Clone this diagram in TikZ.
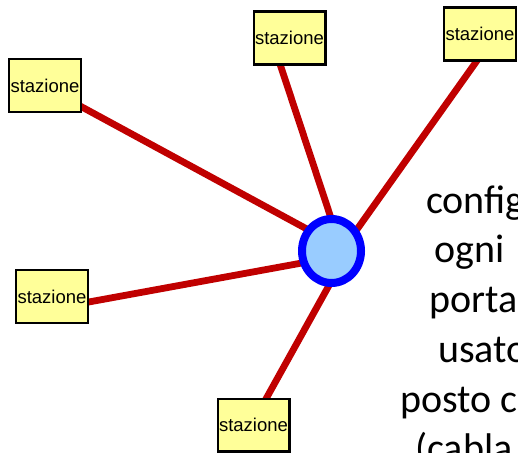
\documentclass[tikz,border=0pt]{standalone}
\usepackage{fontspec}
\setmainfont{Liberation Sans}
\newfontfamily\notefont{Carlito}
\usetikzlibrary{calc,backgrounds,shapes.geometric}
\definecolor{linkred}{HTML}{C00000}
\definecolor{stationfill}{HTML}{FFFF99}
\definecolor{hubfill}{HTML}{99CCFF}
\definecolor{hubring}{HTML}{0000FF}
\begin{document}
\begin{tikzpicture}[x=1pt,y=-1pt,
  station/.style={draw=black, line width=2.4pt, fill=stationfill,
    minimum width=71.6pt, minimum height=52.6pt, inner sep=0pt,
    font=\fontsize{18.5}{20}\selectfont},
  hubnode/.style={ellipse, draw=hubring, line width=8pt, fill=hubfill,
    minimum width=59pt, minimum height=64pt, inner sep=0pt},
  link/.style={draw=linkred, line width=6.8pt},
  note/.style={anchor=base west, inner sep=0pt,
    font=\notefont\fontsize{40}{48}\selectfont}]
\useasboundingbox (0,0) rectangle (518,452);
\clip (0,0) rectangle (518,452);

% stations and central hub
\node[station] (s1) at (45,85.5) {stazione};
\node[station] (s2) at (289.5,38) {stazione};
\node[station] (s3) at (480,34) {stazione};
\node[station] (s4) at (52,296.5) {stazione};
\node[station] (s5) at (253.5,425) {stazione};
\node[hubnode] (hub) at (331.5,251) {};

% cables, drawn beneath boxes and hub
\begin{scope}[on background layer]
  \draw[link] ($(s1.center)+(29,17.2)$) -- ($(hub.center)+(-19.5,-19.2)$);
  \draw[link] ($(s2.center)+(-11.5,20)$) -- ($(hub.center)+(0.8,-29)$);
  \draw[link] ($(s3.center)+(1,21)$) -- ($(hub.center)+(22.2,-17)$);
  \draw[link] ($(s4.center)+(28,7.1)$) -- ($(hub.center)+(-21.5,10.5)$);
  \draw[link] ($(s5.center)+(9.1,-20)$) -- ($(hub.center)+(0.5,29)$);
\end{scope}

% side text
\node[note] (t1) at (426,213) {config};
\node[note] (t2) at (434,262) {ogni};
\node[note] (t3) at (429,312) {porta};
\node[note] (t4) at (438,362) {usato};
\node[note] (t5) at (400,412) {posto c};
\node[note] (t6) at (415,461) {(cabla};
\end{tikzpicture}
\end{document}
